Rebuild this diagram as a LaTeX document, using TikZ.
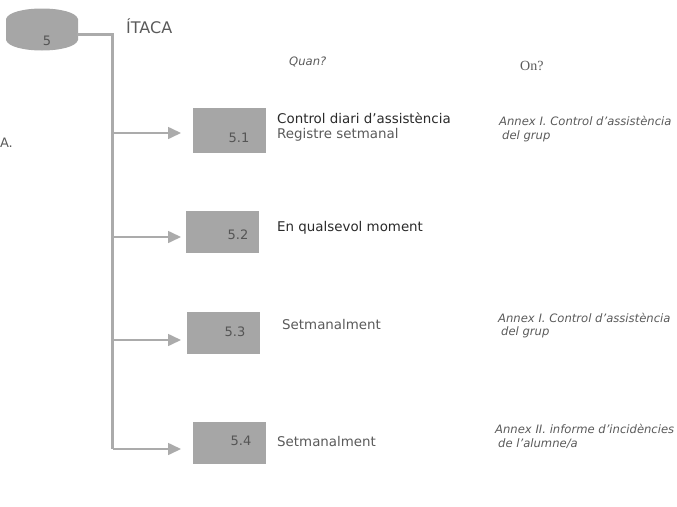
\documentclass[tikz,border=0pt]{standalone}
\usepackage{fontspec}
\setmainfont{DejaVu Sans}
\newfontfamily\serifq{Liberation Serif}
\usetikzlibrary{arrows.meta}
\definecolor{boxgray}{HTML}{A6A6A6}
\definecolor{linegray}{HTML}{ABABAB}
\definecolor{textgray}{HTML}{5A5A5A}
\definecolor{textdark}{HTML}{2A2A2A}
\definecolor{numgray}{HTML}{555555}
\tikzset{
  stepbox/.style={fill=boxgray,draw=none,inner sep=0pt,minimum width=73pt,minimum height=43pt,anchor=north west},
  num/.style={font=\fontsize{13}{13}\selectfont,text=numgray,inner sep=0pt},
  lbl/.style={font=\fontsize{13.4}{15}\selectfont,text=textgray,inner sep=0pt,anchor=west},
  lbldark/.style={lbl,text=textdark},
  annex/.style={font=\itshape\fontsize{11.6}{13.3}\selectfont,text=textgray,inner sep=0pt,anchor=west,align=left},
  trunk/.style={draw=linegray,line width=2.5pt},
  branch/.style={draw=linegray,line width=1.6pt,-{Triangle[length=13pt,width=12pt]},shorten >=#1},
}
\begin{document}
\begin{tikzpicture}[x=1pt,y=-1pt]
\useasboundingbox (0,0) rectangle (677,506);
% cylinder
\fill[boxgray] (6,19) .. controls (10,5) and (74,5) .. (78,19) -- (78,40) .. controls (74,54) and (10,54) .. (6,40) -- cycle;
\node[num] (n5) at (47,41) {5};
\coordinate (c5) at (77,34.5);
\coordinate (corner) at (112.5,34.5);
\coordinate (t1) at (112.5,133);
\coordinate (t2) at (112.5,237);
\coordinate (t3) at (112.5,340);
\coordinate (t4) at (112.5,449);
% boxes
\node[stepbox,minimum height=45pt] (b1) at (193,108) {};
\node[stepbox,minimum height=42pt] (b2) at (186,211) {};
\node[stepbox,minimum height=42pt] (b3) at (187,312) {};
\node[stepbox,minimum height=42pt] (b4) at (193,422) {};
\node[num] (l1) at (239,138) {5.1};
\node[num] (l2) at (238,235) {5.2};
\node[num] (l3) at (235,332) {5.3};
\node[num] (l4) at (241,441) {5.4};
% connectors
\draw[trunk] (c5) -- (corner) -- (t4);
\draw[branch=12pt] (t1) -- (b1.west |- t1);
\draw[branch=5pt] (t2) -- (b2.west |- t2);
\draw[branch=6pt] (t3) -- (b3.west |- t3);
\draw[branch=12pt] (t4) -- (b4.west |- t4);
% texts
\node[lbl,font=\fontsize{16}{16}\selectfont] (itaca) at (126,26) {ÍTACA};
\node[lbl,font=\fontsize{13}{13}\selectfont,anchor=east] (frag) at (13,143) {A.};
\node[annex] (quan) at (289,62) {Quan?};
\node[lbl,font=\serifq\fontsize{14}{14}\selectfont] (on) at (520,66) {On?};
\node[lbl,text=textdark] (t51a) at (277,118) {Control diari d’assistència};
\node[lbl] (t51b) at (277,134.5) {Registre setmanal};
\node[lbldark] (t52) at (277,227.5) {En qualsevol moment};
\node[lbl] (t53) at (282,324) {Setmanalment};
\node[lbl] (t54) at (277,441) {Setmanalment};
\node[annex] (a1) at (499,129) {Annex I. Control d’assistència\\\hspace{3pt}del grup};
\node[annex] (a3) at (498,325.5) {Annex I. Control d’assistència\\\hspace{3pt}del grup};
\node[annex] (a4) at (495,436.5) {Annex II. informe d’incidències\\\hspace{3pt}de l’alumne/a};
\end{tikzpicture}
\end{document}
